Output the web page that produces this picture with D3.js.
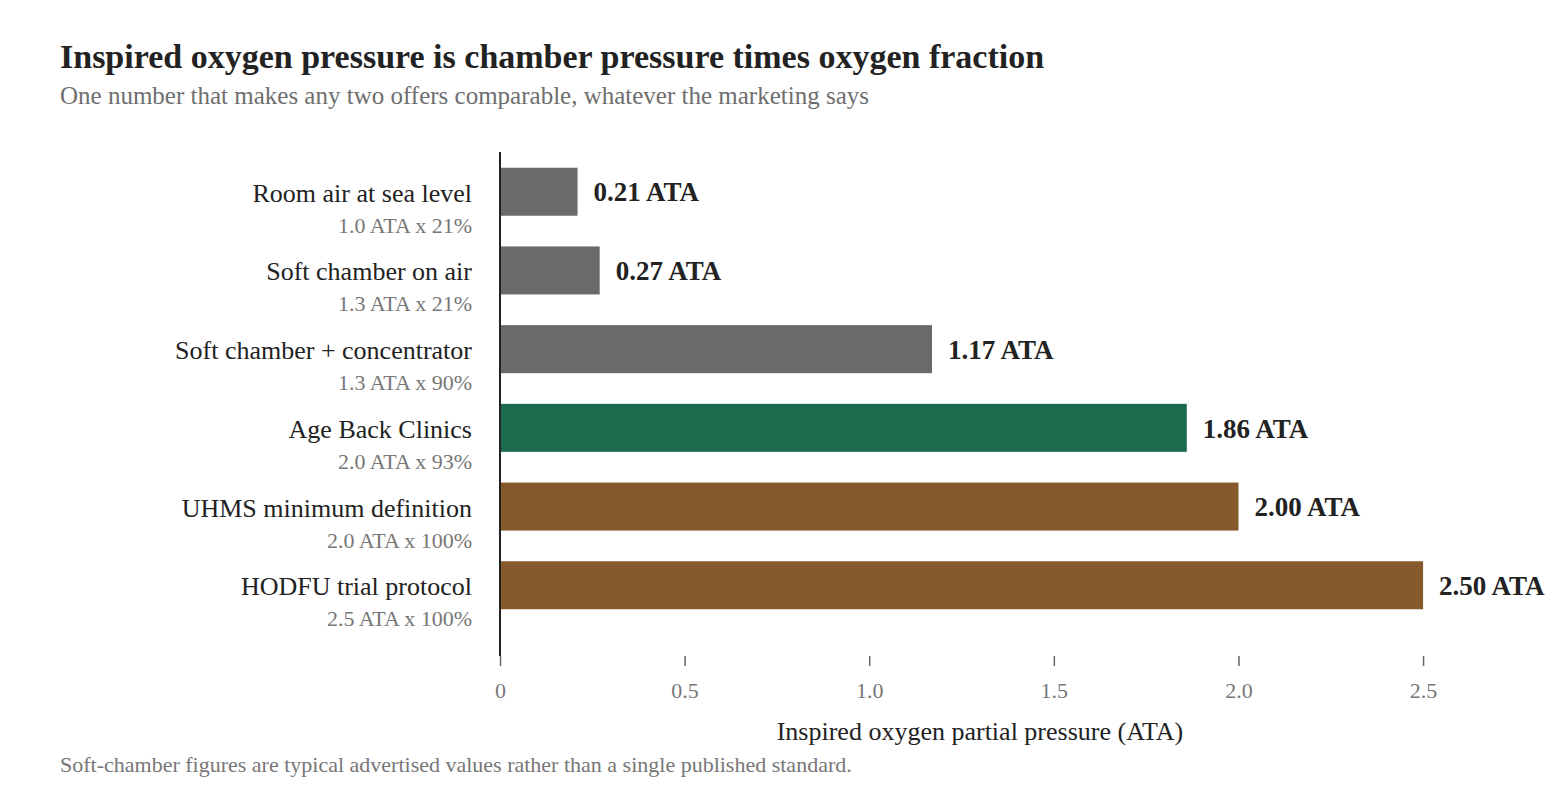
<!DOCTYPE html>
<html>
<head>
<meta charset="utf-8">
<script src="https://cdn.jsdelivr.net/npm/d3@7"></script>
<style>
  html, body { margin: 0; padding: 0; background: #fff; }
  svg { display: block; font-family: "Liberation Serif", "Times New Roman", serif; }
</style>
</head>
<body>
<svg id="chart" width="1560" height="800"></svg>
<script>
const categories = [
  "Room air at sea level",
  "Soft chamber on air",
  "Soft chamber + concentrator",
  "Age Back Clinics",
  "UHMS minimum definition",
  "HODFU trial protocol"
];
const formulas = [
  "1.0 ATA x 21%",
  "1.3 ATA x 21%",
  "1.3 ATA x 90%",
  "2.0 ATA x 93%",
  "2.0 ATA x 100%",
  "2.5 ATA x 100%"
];
const values = [0.21, 0.27, 1.17, 1.86, 2.00, 2.50];
const groups = ["soft", "soft", "soft", "clinic", "standard", "standard"];
const groupColors = { soft: "#6a6a6a", clinic: "#1c6b4d", standard: "#875a2e" };
const tickValues = [0, 0.5, 1.0, 1.5, 2.0, 2.5];
const tickLabels = ["0", "0.5", "1.0", "1.5", "2.0", "2.5"];

const title = "Inspired oxygen pressure is chamber pressure times oxygen fraction";
const subtitle = "One number that makes any two offers comparable, whatever the marketing says";
const xTitle = "Inspired oxygen partial pressure (ATA)";
const footnote = "Soft-chamber figures are typical advertised values rather than a single published standard.";

const svg = d3.select("#chart");

const x = d3.scaleLinear().domain([0, 2.6]).range([500, 1460]);
const y = d3.scaleBand().domain(categories).range([152, 625]).paddingInner(0.39).paddingOuter(0.2);

// Title & subtitle
svg.append("text").attr("x", 60).attr("y", 68)
  .attr("font-size", 34).attr("font-weight", "bold").attr("fill", "#222")
  .text(title);
svg.append("text").attr("x", 60).attr("y", 104)
  .attr("font-size", 25).attr("fill", "#6e6e6e")
  .text(subtitle);

// Bars
const rows = categories.map((c, i) => ({ c, f: formulas[i], v: values[i], g: groups[i] }));

svg.append("g").selectAll("rect").data(rows).join("rect")
  .attr("x", x(0))
  .attr("y", d => y(d.c))
  .attr("width", d => x(d.v) - x(0))
  .attr("height", y.bandwidth())
  .attr("fill", d => groupColors[d.g]);

// Value labels
svg.append("g").selectAll("text").data(rows).join("text")
  .attr("x", d => x(d.v) + 16)
  .attr("y", d => y(d.c) + y.bandwidth() / 2)
  .attr("dy", "0.36em")
  .attr("font-size", 27).attr("font-weight", "bold").attr("fill", "#222")
  .text(d => d.v.toFixed(2) + " ATA");

// Category labels
const lab = svg.append("g").selectAll("g").data(rows).join("g")
  .attr("transform", d => `translate(472, ${y(d.c) + y.bandwidth() / 2})`);
lab.append("text").attr("text-anchor", "end").attr("y", 10)
  .attr("font-size", 26).attr("fill", "#222").text(d => d.c);
lab.append("text").attr("text-anchor", "end").attr("y", 41)
  .attr("font-size", 22).attr("fill", "#777").text(d => d.f);

// Vertical baseline
svg.append("line")
  .attr("x1", x(0)).attr("x2", x(0)).attr("y1", 152).attr("y2", 656)
  .attr("stroke", "#222").attr("stroke-width", 2);

// X axis
const xAxis = d3.axisBottom(x).tickValues(tickValues)
  .tickFormat((d, i) => tickLabels[i]).tickSize(10).tickPadding(16);
const gx = svg.append("g").attr("transform", "translate(0,656)").call(xAxis);
gx.select(".domain").remove();
gx.selectAll(".tick line").attr("stroke", "#666").attr("stroke-width", 1.5);
gx.selectAll(".tick text").attr("font-size", 22).attr("fill", "#777")
  .attr("font-family", "Liberation Serif, serif");

svg.append("text").attr("x", x(1.3)).attr("y", 740).attr("text-anchor", "middle")
  .attr("font-size", 26).attr("fill", "#222").text(xTitle);

svg.append("text").attr("x", 60).attr("y", 772)
  .attr("font-size", 22).attr("fill", "#777").text(footnote);
</script>
</body>
</html>
